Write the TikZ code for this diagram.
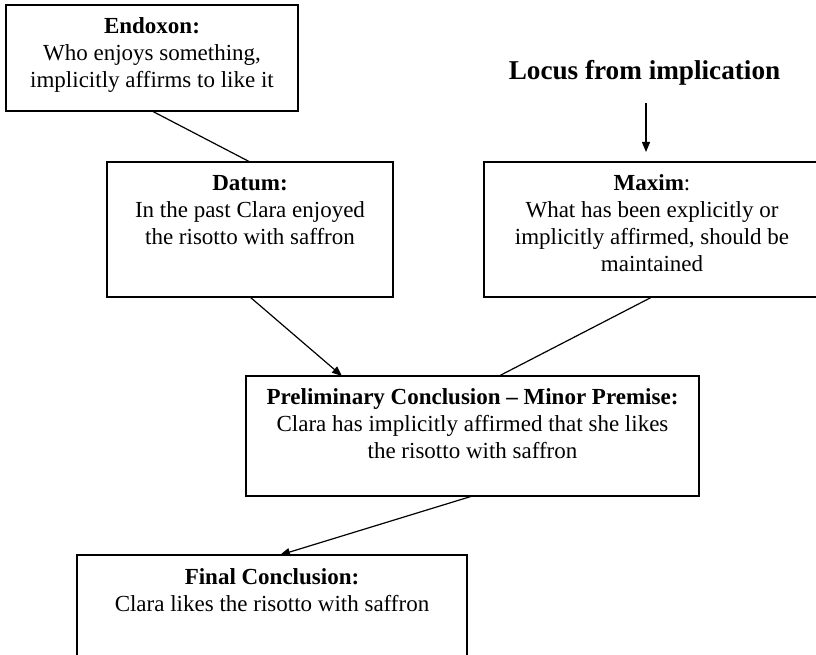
\documentclass[tikz,border=0pt]{standalone}
\usepackage{fontspec}
\setmainfont{Liberation Serif}
\usetikzlibrary{arrows.meta}
% fixed height for the first line of every box text
\newcommand\firstln{\rule{0pt}{17pt}}
\begin{document}
\begin{tikzpicture}[x=1pt,y=-1pt,
  box/.style={draw, line width=1.6pt, rectangle, inner sep=0pt, outer sep=0pt},
  txt/.style={anchor=north, align=center, inner sep=0pt, font=\fontsize{23}{27}\selectfont},
  link/.style={line width=1.2pt},
  arr/.style={line width=1.2pt, -{Triangle[length=10pt,width=8pt]}}]
\useasboundingbox (0,0) rectangle (816,655);

% boxes
\node[box, minimum width=292pt, minimum height=106pt] (endoxon) at (152,58) {};
\node[box, minimum width=286pt, minimum height=135pt] (datum) at (250,229.5) {};
\node[box, minimum width=336pt, minimum height=135pt] (maxim) at (652,229.5) {};
\node[box, minimum width=453pt, minimum height=120pt] (prelim) at (472.5,436) {};
\node[box, minimum width=390pt, minimum height=102pt] (final) at (272,606) {};

% box texts
\node[txt] (endoxontxt) at (152,16) {\firstln\textbf{Endoxon:}\\Who enjoys something,\\implicitly affirms to like it};
\node[txt] (datumtxt) at (250,173) {\firstln\textbf{Datum:}\\In the past Clara enjoyed\\the risotto with saffron};
\node[txt] (maximtxt) at (652,173) {\firstln\textbf{Maxim}:\\What has been explicitly or\\implicitly affirmed, should be\\maintained};
\node[txt] (prelimtxt) at (472.5,387) {\firstln\textbf{Preliminary Conclusion -- Minor Premise:}\\Clara has implicitly affirmed that she likes\\the risotto with saffron};
\node[txt] (finaltxt) at (272,567) {\firstln\textbf{Final Conclusion:}\\Clara likes the risotto with saffron};

% topic heading
\node[anchor=base, inner sep=0pt, font=\fontsize{27.2}{31}\selectfont\bfseries] (locus) at (644.5,80) {Locus from implication};

% connectors
\draw[link] (endoxon.south) -- (datum.north);
\draw[arr] ([xshift=1.5pt,yshift=-17pt]locus.south) -- ([xshift=-6pt,yshift=10pt]maxim.north);
\draw[arr] (datum.south) -- ([xshift=-130.5pt]prelim.north);
\draw[link] (maxim.south) -- ([xshift=26.5pt]prelim.north);
\draw[arr] (prelim.south) -- ([xshift=8pt]final.north);
\end{tikzpicture}
\end{document}
